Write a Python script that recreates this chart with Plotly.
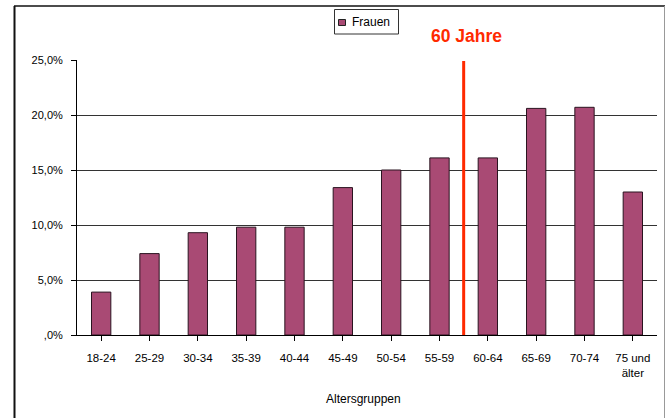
import plotly.graph_objects as go

# Age groups and share of women per group (percent)
age_groups = ["18-24", "25-29", "30-34", "35-39", "40-44", "45-49",
              "50-54", "55-59", "60-64", "65-69", "70-74", "75 und<br>älter"]
frauen = [3.9, 7.4, 9.3, 9.8, 9.8, 13.4, 15.0, 16.1, 16.1, 20.6, 20.7, 13.0]

y_ticks = [0, 5, 10, 15, 20, 25]
y_tick_text = [",0%", "5,0%", "10,0%", "15,0%", "20,0%", "25,0%"]

bar_color = "#A94A74"
edge_color = "#2a1420"
marker_red = "#FF2A00"
font_family = "Liberation Sans, Arial, sans-serif"

# Pixel geometry of the plotting area
W, H = 666, 418
L, R, T, B = 77, 9, 60, 83
pw, ph = W - L - R, H - T - B


def px_x(x):
    return (x - L) / pw


def px_y(y):
    return (H - B - y) / ph


fig = go.Figure()
fig.add_trace(go.Bar(
    x=list(range(len(age_groups))),
    y=frauen,
    name="Frauen",
    marker=dict(color=bar_color, line=dict(color=edge_color, width=1)),
    showlegend=False,
))

shapes = [
    # 60-year divider between 55-59 and 60-64
    dict(type="line", xref="x", yref="y", x0=7.5, x1=7.5, y0=0, y1=24.9,
         line=dict(color=marker_red, width=3)),
    # outer frame
    dict(type="line", xref="paper", yref="paper",
         x0=px_x(14.5), x1=px_x(14.5), y0=px_y(6), y1=px_y(430),
         line=dict(color="#111111", width=2)),
    dict(type="line", xref="paper", yref="paper",
         x0=px_x(14), x1=px_x(665), y0=px_y(6), y1=px_y(6),
         line=dict(color="#111111", width=1.5)),
    dict(type="line", xref="paper", yref="paper",
         x0=px_x(664.5), x1=px_x(664.5), y0=px_y(6), y1=px_y(430),
         line=dict(color="#999999", width=1)),
    # legend box and swatch
    dict(type="rect", xref="paper", yref="paper",
         x0=px_x(334.5), x1=px_x(398.5), y0=px_y(34), y1=px_y(9.5),
         line=dict(color="#333333", width=1), fillcolor="white"),
    dict(type="rect", xref="paper", yref="paper",
         x0=px_x(338.5), x1=px_x(345.5), y0=px_y(25.5), y1=px_y(19.5),
         line=dict(color="#222222", width=1), fillcolor=bar_color),
]

annotations = [
    dict(text="Frauen", xref="paper", yref="paper", x=px_x(350), y=px_y(22),
         xanchor="left", yanchor="middle", showarrow=False,
         font=dict(size=12, color="black", family=font_family)),
    dict(text="<b>60 Jahre</b>", xref="paper", yref="paper",
         x=px_x(466.5), y=px_y(35.5), xanchor="center", yanchor="middle",
         showarrow=False, font=dict(size=17.5, color=marker_red, family=font_family)),
    dict(text="Altersgruppen", xref="paper", yref="paper",
         x=px_x(363.5), y=px_y(399), xanchor="center", yanchor="middle",
         showarrow=False, font=dict(size=12, color="black", family=font_family)),
]

fig.update_layout(
    width=W, height=H,
    margin=dict(l=L, r=R, t=T, b=B, pad=0),
    paper_bgcolor="white", plot_bgcolor="white",
    font=dict(family=font_family, size=11, color="black"),
    bargap=0.6,
    shapes=shapes,
    annotations=annotations,
    xaxis=dict(
        tickmode="array", tickvals=list(range(len(age_groups))), ticktext=age_groups,
        range=[-0.5, len(age_groups) - 0.5],
        showline=True, linecolor="black", linewidth=1,
        ticks="outside", ticklen=5, tickcolor="black", tickson="boundaries",
        showgrid=False, zeroline=False,
        tickfont=dict(size=11.5, color="black"),
        ticklabelstandoff=7,
    ),
    yaxis=dict(
        range=[0, 25], tickvals=y_ticks, ticktext=y_tick_text,
        showline=True, linecolor="black", linewidth=1,
        ticks="outside", ticklen=5, tickcolor="black",
        showgrid=True, gridcolor="#333333", gridwidth=1,
        zeroline=False,
        tickfont=dict(size=11, color="black"),
        ticklabelstandoff=6,
    ),
)

fig.write_html("out.html")
